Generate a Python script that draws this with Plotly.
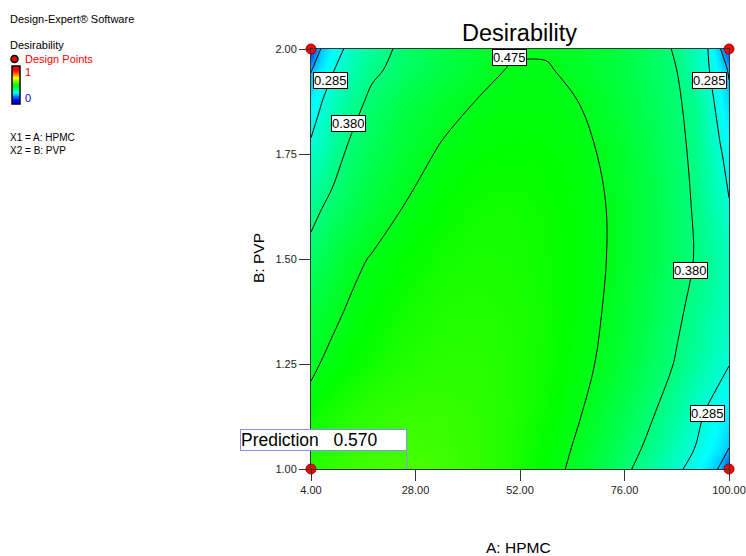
import plotly.graph_objects as go

# ---- data ----
A_COLS = [4, 6, 9, 13, 18, 26, 34, 42, 50, 58, 66, 74, 82, 88, 92, 95, 98, 100]
B_ROWS = [1.0, 1.05, 1.125, 1.25, 1.375, 1.5, 1.625, 1.75, 1.875, 1.95, 2.0]

ROW_100 = [0.536, 0.542, 0.550, 0.558, 0.5655, 0.570, 0.5655, 0.552, 0.529, 0.497, 0.457, 0.407, 0.348, 0.298, 0.262, 0.228, 0.180, 0.05]
ROW_105 = [0.523, 0.529, 0.538, 0.547, 0.555, 0.562, 0.560, 0.549, 0.529, 0.501, 0.465, 0.420, 0.366, 0.320, 0.286, 0.260, 0.225, 0.19]
ROW_1125 = [0.506, 0.518, 0.527, 0.537, 0.546, 0.555, 0.555, 0.547, 0.531, 0.507, 0.475, 0.434, 0.385, 0.343, 0.305, 0.275, 0.250, 0.235]
ROW_125 = [0.460, 0.475, 0.487, 0.501, 0.516, 0.532, 0.540, 0.540, 0.531, 0.514, 0.488, 0.455, 0.412, 0.375, 0.348, 0.326, 0.303, 0.287]
ROW_1375 = [0.440, 0.452, 0.465, 0.481, 0.498, 0.518, 0.530, 0.533, 0.528, 0.515, 0.493, 0.463, 0.424, 0.390, 0.365, 0.344, 0.323, 0.308]
ROW_150 = [0.400, 0.415, 0.437, 0.461, 0.479, 0.502, 0.517, 0.524, 0.522, 0.512, 0.494, 0.468, 0.433, 0.402, 0.379, 0.360, 0.335, 0.315]
ROW_1625 = [0.361, 0.375, 0.395, 0.419, 0.445, 0.478, 0.501, 0.514, 0.517, 0.510, 0.493, 0.468, 0.433, 0.400, 0.376, 0.345, 0.315, 0.290]
ROW_175 = [0.305, 0.322, 0.355, 0.393, 0.420, 0.455, 0.481, 0.497, 0.503, 0.499, 0.486, 0.462, 0.427, 0.395, 0.370, 0.335, 0.292, 0.260]
ROW_1875 = [0.240, 0.278, 0.315, 0.352, 0.395, 0.432, 0.457, 0.476, 0.486, 0.484, 0.474, 0.449, 0.415, 0.387, 0.362, 0.318, 0.255, 0.212]
ROW_195 = [0.185, 0.228, 0.281, 0.325, 0.368, 0.405, 0.432, 0.458, 0.479, 0.479, 0.462, 0.441, 0.410, 0.380, 0.330, 0.295, 0.235, 0.180]
ROW_200 = [0.030, 0.185, 0.250, 0.306, 0.350, 0.400, 0.432, 0.452, 0.468, 0.470, 0.459, 0.442, 0.410, 0.372, 0.322, 0.290, 0.195, 0.040]

DESIRABILITY = [ROW_100, ROW_105, ROW_1125, ROW_125, ROW_1375, ROW_150,
                ROW_1625, ROW_175, ROW_1875, ROW_195, ROW_200]

CONTOUR_START = 0.19
CONTOUR_STEP = 0.095
CONTOUR_END = 0.475

LABEL_TEXT = ["0.475", "0.285", "0.380", "0.285", "0.380", "0.285"]
LABEL_A = [49.7, 8.45, 12.57, 95.6, 91.2, 95.06]
LABEL_B = [1.979, 1.924, 1.8226, 1.924, 1.4726, 1.1317]

DESIGN_A = [4, 4, 100, 100]
DESIGN_B = [1.0, 2.0, 1.0, 2.0]

PRED_A = 26
PRED_B = 1.0
PRED_VALUE = 0.570

X_TICKS = [4, 28, 52, 76, 100]
Y_TICKS = [1.0, 1.25, 1.5, 1.75, 2.0]

LEGEND_SCALE_VALUES = [[0.0], [0.25], [0.5], [0.75], [1.0]]

FONT = "Liberation Sans, Arial, sans-serif"
SCALE = [[0.0, "#0000ff"], [0.25, "#00ffff"], [0.5, "#00ff00"],
         [0.75, "#ffff00"], [1.0, "#ff0000"]]

# page geometry (pixels); paper spans the whole page (zero margins)
W, H = 746, 556
PLOT_L, PLOT_R, PLOT_T, PLOT_B = 311, 729, 49, 469


def px(x):
    return x / W


def py(y):
    return (H - y) / H


fig = go.Figure()

fig.add_trace(go.Heatmap(
    x=A_COLS, y=B_ROWS, z=DESIRABILITY, zmin=0, zmax=1,
    colorscale=SCALE, zsmooth="best", hoverinfo="skip", showscale=False,
))

fig.add_trace(go.Contour(
    x=A_COLS, y=B_ROWS, z=DESIRABILITY, showscale=False,
    contours=dict(start=CONTOUR_START, end=CONTOUR_END + 1e-4, size=CONTOUR_STEP,
                  coloring="none"),
    line=dict(color="black", width=1, smoothing=1), hoverinfo="skip",
))

fig.add_trace(go.Scatter(
    x=DESIGN_A, y=DESIGN_B, mode="markers", cliponaxis=False,
    marker=dict(size=10, color="#ff0000", line=dict(color="#a00000", width=1)),
    showlegend=False, hoverinfo="skip",
))

# small legend colour bar
fig.add_trace(go.Heatmap(
    z=LEGEND_SCALE_VALUES, zmin=0, zmax=1, colorscale=SCALE, zsmooth="best",
    showscale=False, hoverinfo="skip", xaxis="x2", yaxis="y2",
))

annotations = []
for t, a, b in zip(LABEL_TEXT, LABEL_A, LABEL_B):
    annotations.append(dict(x=a, y=b, xref="x", yref="y", text=t, showarrow=False,
                            xanchor="center", yanchor="middle",
                            font=dict(family=FONT, size=13, color="black"),
                            bgcolor="white", bordercolor="black", borderwidth=1,
                            borderpad=0))

# prediction flag
annotations.append(dict(x=PRED_A, y=PRED_B, xref="x", yref="y",
                        text=f"Prediction   {PRED_VALUE:.3f}", showarrow=False,
                        xanchor="right", yanchor="bottom", yshift=18,
                        width=165, align="left",
                        font=dict(family=FONT, size=17.5, color="black"),
                        bgcolor="white", bordercolor="#8c8cff", borderwidth=1,
                        borderpad=0))

# title and axis titles
annotations.append(dict(x=px(519), y=py(33), xref="paper", yref="paper", text="Desirability",
                        showarrow=False, xanchor="center", yanchor="middle",
                        font=dict(family=FONT, size=23.5, color="black")))
annotations.append(dict(x=px(518), y=py(547), xref="paper", yref="paper", text="A: HPMC",
                        showarrow=False, xanchor="center", yanchor="middle",
                        font=dict(family=FONT, size=15.5, color="black")))
annotations.append(dict(x=px(258), y=py(258), xref="paper", yref="paper", text="B: PVP",
                        showarrow=False, textangle=-90, xanchor="center", yanchor="middle",
                        font=dict(family=FONT, size=15.5, color="black")))


def side(text, x, y, color="black", size=11):
    annotations.append(dict(x=px(x), y=py(y), xref="paper", yref="paper", text=text,
                            showarrow=False, xanchor="left", yanchor="middle",
                            font=dict(family=FONT, size=size, color=color)))


side("Design-Expert® Software", 8, 19)
side("Desirability", 8, 45)
side("Design Points", 23, 59, "#ff0000")
side("1", 23, 72, "#ff0000")
side("0", 23, 98, "#0000ff")
side("X1 = A: HPMC", 8, 137, size=10)
side("X2 = B: PVP", 8, 150, size=10)

shapes = [
    dict(type="line", xref="x", yref="y", x0=PRED_A, x1=PRED_A, y0=0, y1=18,
         ysizemode="pixel", yanchor=PRED_B, line=dict(color="#8c8cff", width=1)),
    dict(type="circle", xref="paper", yref="paper", xsizemode="pixel", ysizemode="pixel",
         xanchor=px(14.5), yanchor=py(59), x0=-3.5, x1=3.5, y0=-3.5, y1=3.5,
         fillcolor="#ff0000", line=dict(color="black", width=1.5)),
    dict(type="rect", xref="paper", yref="paper", x0=px(12), x1=px(20), y0=py(104), y1=py(66),
         line=dict(color="black", width=1.5)),
]

axis_common = dict(ticks="outside", ticklen=11, tickcolor="#333", tickwidth=1,
                   showline=True, linecolor="#333", linewidth=1, mirror=True,
                   showgrid=False, zeroline=False, automargin=False,
                   tickfont=dict(family=FONT, size=11, color="#222"))

fig.update_layout(
    width=W, height=H, autosize=False,
    margin=dict(l=0, r=0, t=0, b=0, pad=0, autoexpand=False),
    paper_bgcolor="white", plot_bgcolor="white",
    showlegend=False,
    annotations=annotations, shapes=shapes,
    font=dict(family=FONT, size=10, color="#222"),
    xaxis=dict(domain=[px(PLOT_L), px(PLOT_R)], range=[4, 100], tickvals=X_TICKS,
               ticktext=[f"{v:.2f}" for v in X_TICKS], **axis_common),
    yaxis=dict(domain=[py(PLOT_B), py(PLOT_T)], range=[1, 2], tickvals=Y_TICKS,
               ticktext=[f"{v:.2f}" for v in Y_TICKS], **axis_common),
    xaxis2=dict(domain=[px(12), px(20)], visible=False, fixedrange=True),
    yaxis2=dict(domain=[py(104), py(66)], visible=False, fixedrange=True),
)

fig.write_html("out.html", config={"displayModeBar": False},
               post_script="document.body.style.margin='0';"
                           "document.body.style.overflow='hidden';")
